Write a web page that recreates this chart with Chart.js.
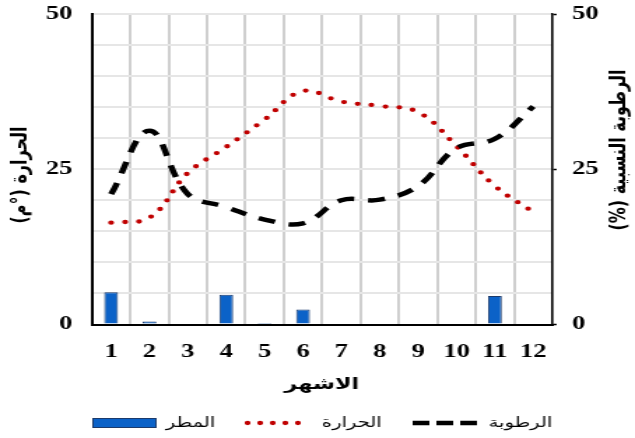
<!DOCTYPE html>
<html>
<head>
<meta charset="utf-8">
<script src="https://cdn.jsdelivr.net/npm/chart.js@4/dist/chart.umd.min.js"></script>
<style>
  html, body { margin: 0; padding: 0; background: #fff; overflow: hidden; }
  /* the chart is drawn on a narrower canvas and widened to the window */
  #wrap { width: 454px; height: 438px; transform-origin: 0 0; transform: scaleX(1.39868); }
  canvas { display: block; }
</style>
</head>
<body>
<div id="wrap"><canvas id="chart" width="454" height="438"></canvas></div>
<script>
// monthly climate values
const months = ['1', '2', '3', '4', '5', '6', '7', '8', '9', '10', '11', '12'];
const rainfall = [5.2, 0.5, 0, 4.8, 0.25, 2.4, 0, 0, 0, 0, 4.6, 0];
const temperature = [16.4, 17.2, 24.4, 28.6, 33.0, 37.6, 35.9, 35.2, 34.2, 28.7, 22.3, 18.1];
const humidity = [21.0, 31.2, 21.0, 18.9, 16.9, 16.3, 20.0, 20.1, 22.3, 28.4, 29.9, 35.1];
const labelledTicks = [0, 25, 50];

const rainName = 'المطر';
const tempName = 'الحرارة';
const humName = 'الرطوبة';
const tempTitle = 'الحرارة (°م)';
const humTitle = 'الرطوبة النسبية (%)';
const monthTitle = 'الاشهر';

const tickFont = { family: '"Liberation Serif", "Times New Roman", serif', weight: 'bold', size: 19 };
const arabicBold = 'bold 16px "DejaVu Sans", sans-serif';
const arabicLegend = '14px "DejaVu Sans", sans-serif';

// axis titles and the legend row
const decorations = {
  id: 'decorations',
  afterDraw(chart) {
    const ctx = chart.ctx;
    const ds = chart.data.datasets;
    ctx.save();
    ctx.fillStyle = '#000';
    ctx.direction = 'rtl';
    ctx.textAlign = 'center';
    ctx.textBaseline = 'middle';
    ctx.font = arabicBold;

    ctx.save();
    ctx.translate(15, 175);
    ctx.rotate(-Math.PI / 2);
    ctx.fillText(tempTitle, 0, 0);
    ctx.restore();

    ctx.save();
    ctx.translate(443, 150);
    ctx.rotate(-Math.PI / 2);
    ctx.fillText(humTitle, 0, 0);
    ctx.restore();

    ctx.fillText(monthTitle, 230, 385);

    // legend
    const ly = 423;
    ctx.font = arabicLegend;
    ctx.textAlign = 'right';

    // rain swatch
    ctx.fillStyle = ds[0].backgroundColor;
    ctx.fillRect(66, ly - 5, 46, 10);
    ctx.strokeStyle = ds[0].borderColor;
    ctx.lineWidth = 1;
    ctx.strokeRect(66.5, ly - 4.5, 45, 9);
    ctx.fillStyle = '#000';
    ctx.fillText(rainName, 154, ly);

    // temperature swatch
    ctx.beginPath();
    ctx.strokeStyle = ds[1].borderColor;
    ctx.lineWidth = ds[1].borderWidth;
    ctx.lineCap = 'round';
    ctx.setLineDash([0, 9]);
    ctx.moveTo(177, ly);
    ctx.lineTo(222, ly);
    ctx.stroke();
    ctx.fillText(tempName, 273, ly);

    // humidity swatch
    ctx.beginPath();
    ctx.strokeStyle = ds[2].borderColor;
    ctx.lineWidth = ds[2].borderWidth;
    ctx.lineCap = 'butt';
    ctx.setLineDash([12, 5]);
    ctx.moveTo(295, ly);
    ctx.lineTo(341, ly);
    ctx.stroke();
    ctx.setLineDash([]);
    ctx.fillText(humName, 395, ly);

    ctx.restore();
  }
};

// keep the value range flush with the plot edges (labels may overhang)
function fitY(width) {
  return (s) => { s.width = width; s.paddingTop = 0; s.paddingBottom = 0; };
}

new Chart(document.getElementById('chart'), {
  type: 'bar',
  data: {
    labels: months,
    datasets: [
      {
        type: 'bar',
        label: rainName,
        data: rainfall,
        yAxisID: 'y',
        backgroundColor: '#0B62C8',
        borderColor: '#1B3A6B',
        borderWidth: 1,
        barPercentage: 0.36,
        categoryPercentage: 1,
        order: 3
      },
      {
        type: 'line',
        label: tempName,
        data: temperature,
        yAxisID: 'y',
        borderColor: '#C00000',
        borderWidth: 4.3,
        borderDash: [0, 10],
        borderCapStyle: 'round',
        fill: false,
        tension: 0.4,
        pointRadius: 0,
        order: 2
      },
      {
        type: 'line',
        label: humName,
        data: humidity,
        yAxisID: 'y1',
        borderColor: '#000000',
        borderWidth: 4.5,
        borderDash: [12, 10],
        borderCapStyle: 'butt',
        fill: false,
        tension: 0.4,
        pointRadius: 0,
        order: 1
      }
    ]
  },
  options: {
    responsive: false,
    animation: false,
    devicePixelRatio: 1,
    layout: { padding: { top: 14, right: 0, bottom: 0, left: 0 } },
    plugins: { legend: { display: false }, tooltip: { enabled: false } },
    scales: {
      x: {
        ticks: { padding: 16, color: '#000', font: tickFont, maxRotation: 0, autoSkip: false },
        grid: { color: '#cfcfcf', lineWidth: 2, drawTicks: false, offset: true },
        border: { display: true, color: '#000', width: 2 },
        afterFit(s) { s.height = 113.5; s.paddingLeft = 0; s.paddingRight = 0; }
      },
      y: {
        position: 'left',
        min: 0, max: 50,
        ticks: {
          stepSize: 5, padding: 14, color: '#000', font: tickFont, autoSkip: false,
          callback: (v) => labelledTicks.includes(v) ? String(v) : ''
        },
        grid: { color: '#e6e6e6', lineWidth: 2, drawTicks: false },
        border: { display: true, color: '#000', width: 2 },
        afterFit: fitY(65.7)
      },
      y1: {
        position: 'right',
        min: 0, max: 50,
        ticks: {
          stepSize: 5, padding: 11, color: '#000', font: tickFont, autoSkip: false,
          callback: (v) => labelledTicks.includes(v) ? String(v) : ''
        },
        grid: {
          drawOnChartArea: false, drawTicks: true, tickLength: 3, tickWidth: 1.5,
          tickColor: (c) => (c.tick && labelledTicks.includes(c.tick.value)) ? '#000' : 'rgba(0,0,0,0)'
        },
        border: { display: true, color: '#000', width: 1.5 },
        afterFit: fitY(59)
      }
    }
  },
  plugins: [decorations]
});
</script>
</body>
</html>
